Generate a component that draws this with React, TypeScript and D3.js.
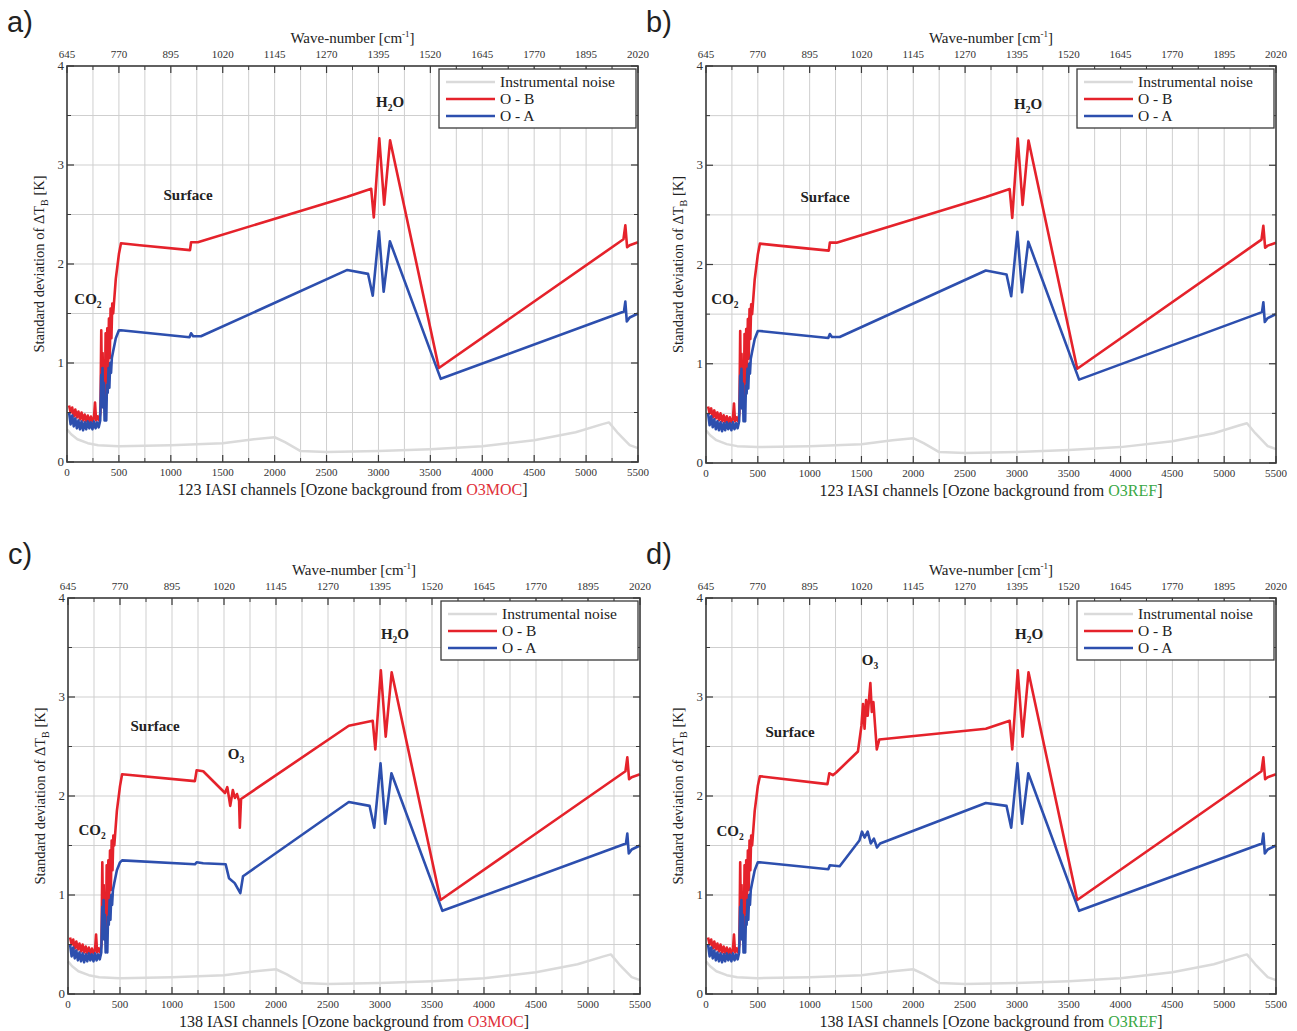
import React from 'react';
import * as d3 from 'd3';

type P = [number, number];

// ---------- axis tick values ----------
const channelTicks = [0, 500, 1000, 1500, 2000, 2500, 3000, 3500, 4000, 4500, 5000, 5500];
const waveTicks = [645, 770, 895, 1020, 1145, 1270, 1395, 1520, 1645, 1770, 1895, 2020];
const yTicks = [0, 1, 2, 3, 4];

// ---------- series ----------
const noise: P[] = [
  [0, 0.33], [40, 0.28], [100, 0.23], [200, 0.19], [300, 0.17], [500, 0.16], [1000, 0.17],
  [1500, 0.19], [1800, 0.23], [2000, 0.25], [2100, 0.2], [2250, 0.11], [2500, 0.1], [3000, 0.11],
  [3500, 0.13], [4000, 0.16], [4500, 0.22], [4900, 0.3], [5150, 0.38], [5220, 0.4], [5300, 0.3],
  [5420, 0.17], [5500, 0.14],
];

const redCO2: P[] = [
  [20, 0.57], [35, 0.5], [50, 0.55], [65, 0.46], [80, 0.53], [95, 0.45], [110, 0.51], [125, 0.43],
  [140, 0.5], [155, 0.42], [170, 0.48], [185, 0.41], [200, 0.47], [215, 0.4], [230, 0.46], [245, 0.41],
  [260, 0.45], [270, 0.6], [280, 0.42], [295, 0.46], [310, 0.42], [322, 0.5], [330, 1.33], [336, 0.75],
  [343, 1.1], [350, 0.7], [357, 0.95], [365, 0.6], [372, 1.3], [380, 0.8], [388, 1.35], [396, 0.95],
  [404, 1.45], [412, 1.05], [420, 1.55], [428, 1.25], [436, 1.6], [445, 1.5], [470, 1.85], [500, 2.1],
];
const blueCO2: P[] = [
  [20, 0.5], [35, 0.38], [50, 0.47], [65, 0.36], [80, 0.44], [95, 0.34], [110, 0.42], [125, 0.33],
  [140, 0.41], [155, 0.32], [170, 0.4], [185, 0.33], [200, 0.41], [215, 0.34], [230, 0.4], [245, 0.33],
  [260, 0.41], [275, 0.34], [290, 0.4], [305, 0.35], [320, 0.42], [330, 0.88], [336, 0.6], [342, 0.95],
  [348, 0.55], [355, 0.8], [362, 0.42], [370, 0.45], [378, 0.42], [385, 0.78], [392, 0.7], [400, 0.95],
  [408, 0.75], [416, 1.0], [424, 0.9], [432, 1.05], [445, 1.12], [470, 1.25], [500, 1.33],
];

const redH2O: P[] = [
  [2930, 2.76], [2955, 2.47], [3008, 3.27], [3055, 2.6], [3112, 3.25], [3582, 0.95],
  [5360, 2.25], [5378, 2.39], [5395, 2.17], [5420, 2.19], [5500, 2.22],
];
const blueH2O: P[] = [
  [2900, 1.9], [2945, 1.68], [3005, 2.33], [3050, 1.72], [3110, 2.23], [3600, 0.84],
  [5365, 1.52], [5378, 1.62], [5392, 1.42], [5420, 1.46], [5500, 1.5],
];

// panels a) and b): no ozone channels
const redMidAB: P[] = [[520, 2.21], [700, 2.19], [1185, 2.14], [1195, 2.22], [1260, 2.22], [2700, 2.68]];
const blueMidAB: P[] = [[520, 1.33], [1180, 1.26], [1195, 1.3], [1215, 1.27], [1290, 1.27], [2700, 1.94]];

// panel c): ozone channels with O3MOC
const redMidC: P[] = [
  [520, 2.22], [1220, 2.15], [1237, 2.26], [1300, 2.25], [1510, 2.03], [1532, 2.09], [1560, 1.9],
  [1585, 2.06], [1605, 1.98], [1625, 2.02], [1645, 1.95], [1652, 1.68], [1664, 1.97], [2700, 2.71],
];
const blueMidC: P[] = [
  [520, 1.35], [1220, 1.31], [1237, 1.33], [1300, 1.32], [1516, 1.31], [1548, 1.17], [1603, 1.12],
  [1657, 1.02], [1683, 1.19], [2700, 1.94],
];

// panel d): ozone channels with O3REF
const redMidD: P[] = [
  [520, 2.2], [1172, 2.12], [1190, 2.23], [1224, 2.21], [1259, 2.24], [1466, 2.45], [1500, 2.71],
  [1515, 2.93], [1530, 2.68], [1545, 2.97], [1560, 2.81], [1586, 3.14], [1600, 2.85], [1615, 2.95],
  [1630, 2.73], [1648, 2.47], [1672, 2.57], [2700, 2.68],
];
const blueMidD: P[] = [
  [520, 1.33], [1180, 1.26], [1195, 1.3], [1290, 1.29], [1480, 1.55], [1505, 1.64], [1530, 1.58],
  [1560, 1.64], [1590, 1.52], [1620, 1.57], [1650, 1.48], [1680, 1.52], [2700, 1.93],
];

// annotations (channel, value)
type Note = { t: string; sub?: string; after?: string; x: number; y: number };
const notesA: Note[] = [
  { t: 'H', sub: '2', after: 'O', x: 3112, y: 3.64 },
  { t: 'Surface', x: 1166, y: 2.7 },
  { t: 'CO', sub: '2', x: 202, y: 1.65 },
];
const notesB: Note[] = [
  { t: 'H', sub: '2', after: 'O', x: 3108, y: 3.62 },
  { t: 'Surface', x: 1149, y: 2.68 },
  { t: 'CO', sub: '2', x: 183, y: 1.65 },
];
const notesC: Note[] = [
  { t: 'H', sub: '2', after: 'O', x: 3144, y: 3.64 },
  { t: 'Surface', x: 837, y: 2.71 },
  { t: 'O', sub: '3', x: 1615, y: 2.42 },
  { t: 'CO', sub: '2', x: 231, y: 1.66 },
];
const notesD: Note[] = [
  { t: 'O', sub: '3', x: 1583, y: 3.37 },
  { t: 'H', sub: '2', after: 'O', x: 3118, y: 3.64 },
  { t: 'Surface', x: 811, y: 2.65 },
  { t: 'CO', sub: '2', x: 232, y: 1.65 },
];

const RED = '#e5222b';
const BLUE = '#2d4fae';
const NOISE = '#dadada';
const GRID = '#cfcfcf';
const FRAME = '#3a3a3a';
const SERIF = '"Liberation Serif", "Times New Roman", serif';

type PanelProps = {
  x0: number; y0: number; w: number; h: number; letter: string; count: string;
  source: string; sourceColor: string; red: P[]; blue: P[]; notes: Note[];
};

function Panel({ x0, y0, w, h, letter, count, source, sourceColor, red, blue, notes }: PanelProps) {
  const x = d3.scaleLinear().domain([0, 5500]).range([x0, x0 + w]);
  const xw = d3.scaleLinear().domain([645, 2020]).range([x0, x0 + w]);
  const y = d3.scaleLinear().domain([0, 4]).range([y0 + h, y0]);
  const line = d3.line<P>().x(d => x(d[0])).y(d => y(d[1]));

  const vGrid = d3.range(250, 5500, 250);
  const hGrid = d3.range(0.5, 4, 0.5);
  const minorCh = d3.range(250, 5500, 500);
  const minorWave = d3.range(707.5, 2020, 125);
  const minorY = [0.5, 1.5, 2.5, 3.5];

  const lgW = 197, lgH = 59;
  const lgX = x0 + w - lgW - 2, lgY = y0 + 3;
  const cx = x0 + w / 2;

  return (
    <g>
      <text x={x0 - 60} y={y0 - 34} fontFamily='"Liberation Sans", Arial, sans-serif' fontSize={29} fill="#222">{letter}</text>
      {/* grid */}
      {vGrid.map(v => (
        <line key={'vg' + v} x1={x(v)} x2={x(v)} y1={y0} y2={y0 + h} stroke={GRID} strokeWidth={1} />
      ))}
      {hGrid.map(v => (
        <line key={'hg' + v} x1={x0} x2={x0 + w} y1={y(v)} y2={y(v)} stroke={GRID} strokeWidth={1} />
      ))}
      {/* series */}
      <path d={line(noise) || ''} fill="none" stroke={NOISE} strokeWidth={2.5} strokeLinejoin="round" />
      <path d={line(red) || ''} fill="none" stroke={RED} strokeWidth={2.6} strokeLinejoin="round" />
      <path d={line(blue) || ''} fill="none" stroke={BLUE} strokeWidth={2.6} strokeLinejoin="round" />
      {/* frame */}
      <rect x={x0} y={y0} width={w} height={h} fill="none" stroke={FRAME} strokeWidth={1.6} />
      {/* bottom ticks */}
      {channelTicks.map(t => (
        <g key={'bt' + t}>
          <line x1={x(t)} x2={x(t)} y1={y0 + h} y2={y0 + h - 7} stroke={FRAME} strokeWidth={1.2} />
          <text x={x(t)} y={y0 + h + 14} fontFamily={SERIF} fontSize={11} textAnchor="middle" fill="#333">{t}</text>
        </g>
      ))}
      {minorCh.map(t => (
        <line key={'bm' + t} x1={x(t)} x2={x(t)} y1={y0 + h} y2={y0 + h - 4} stroke={FRAME} strokeWidth={1} />
      ))}
      {/* top ticks */}
      {waveTicks.map(t => (
        <g key={'tt' + t}>
          <line x1={xw(t)} x2={xw(t)} y1={y0} y2={y0 + 7} stroke={FRAME} strokeWidth={1.2} />
          <text x={xw(t)} y={y0 - 8} fontFamily={SERIF} fontSize={11} textAnchor="middle" fill="#333">{t}</text>
        </g>
      ))}
      {minorWave.map(t => (
        <line key={'tm' + t} x1={xw(t)} x2={xw(t)} y1={y0} y2={y0 + 4} stroke={FRAME} strokeWidth={1} />
      ))}
      {/* left / right ticks */}
      {yTicks.map(t => (
        <g key={'yt' + t}>
          <line x1={x0} x2={x0 + 7} y1={y(t)} y2={y(t)} stroke={FRAME} strokeWidth={1.2} />
          <line x1={x0 + w} x2={x0 + w - 7} y1={y(t)} y2={y(t)} stroke={FRAME} strokeWidth={1.2} />
          <text x={x0 - 3} y={y(t) + 4} fontFamily={SERIF} fontSize={13} textAnchor="end" fill="#333">{t}</text>
        </g>
      ))}
      {minorY.map(t => (
        <g key={'ym' + t}>
          <line x1={x0} x2={x0 + 4} y1={y(t)} y2={y(t)} stroke={FRAME} strokeWidth={1} />
          <line x1={x0 + w} x2={x0 + w - 4} y1={y(t)} y2={y(t)} stroke={FRAME} strokeWidth={1} />
        </g>
      ))}
      {/* axis titles */}
      <text x={cx} y={y0 - 23} fontFamily={SERIF} fontSize={15} textAnchor="middle" fill="#222">
        Wave-number [cm<tspan dy={-6} fontSize={9}>-1</tspan><tspan dy={6}>]</tspan>
      </text>
      <text x={cx} y={y0 + h + 33} fontFamily={SERIF} fontSize={16} textAnchor="middle" fill="#222">
        {count} IASI channels [Ozone background from <tspan fill={sourceColor}>{source}</tspan>]
      </text>
      <text transform={`translate(${x0 - 23},${y0 + h / 2}) rotate(-90)`} fontFamily={SERIF} fontSize={14.5} textAnchor="middle" fill="#222">
        Standard deviation of ΔT<tspan dy={4} fontSize={10}>B</tspan><tspan dy={-4}> [K]</tspan>
      </text>
      {/* annotations */}
      {notes.map((n, i) => (
        <text key={'n' + i} x={x(n.x)} y={y(n.y) + 5} fontFamily={SERIF} fontWeight="bold" fontSize={15} textAnchor="middle" fill="#222">
          {n.t}
          {n.sub ? <tspan dy={4} fontSize={9.5}>{n.sub}</tspan> : null}
          {n.after ? <tspan dy={-4}>{n.after}</tspan> : null}
        </text>
      ))}
      {/* legend */}
      <rect x={lgX} y={lgY} width={lgW} height={lgH} fill="#fff" stroke={FRAME} strokeWidth={1.3} />
      {[
        { label: 'Instrumental noise', color: NOISE },
        { label: 'O - B', color: RED },
        { label: 'O - A', color: BLUE },
      ].map((e, i) => (
        <g key={'lg' + i}>
          <line x1={lgX + 7} x2={lgX + 56} y1={lgY + 13 + i * 17} y2={lgY + 13 + i * 17} stroke={e.color} strokeWidth={2.6} />
          <text x={lgX + 61} y={lgY + 18 + i * 17} fontFamily={SERIF} fontSize={15.5} fill="#222">{e.label}</text>
        </g>
      ))}
    </g>
  );
}

export default function App() {
  const redA = [...redCO2, ...redMidAB, ...redH2O];
  const blueA = [...blueCO2, ...blueMidAB, ...blueH2O];
  const redC = [...redCO2, ...redMidC, ...redH2O];
  const blueC = [...blueCO2, ...blueMidC, ...blueH2O];
  const redD = [...redCO2, ...redMidD, ...redH2O];
  const blueD = [...blueCO2, ...blueMidD, ...blueH2O];
  return (
    <svg width={1297} height={1031} style={{ position: 'absolute', left: 0, top: 0, background: '#fff' }}>
      <Panel x0={67} y0={66} w={571} h={396} letter="a)" count="123" source="O3MOC" sourceColor="#e0303a" red={redA} blue={blueA} notes={notesA} />
      <Panel x0={706} y0={66} w={570} h={397} letter="b)" count="123" source="O3REF" sourceColor="#3aa845" red={redA} blue={blueA} notes={notesB} />
      <Panel x0={68} y0={598} w={572} h={396} letter="c)" count="138" source="O3MOC" sourceColor="#e0303a" red={redC} blue={blueC} notes={notesC} />
      <Panel x0={706} y0={598} w={570} h={396} letter="d)" count="138" source="O3REF" sourceColor="#3aa845" red={redD} blue={blueD} notes={notesD} />
    </svg>
  );
}
